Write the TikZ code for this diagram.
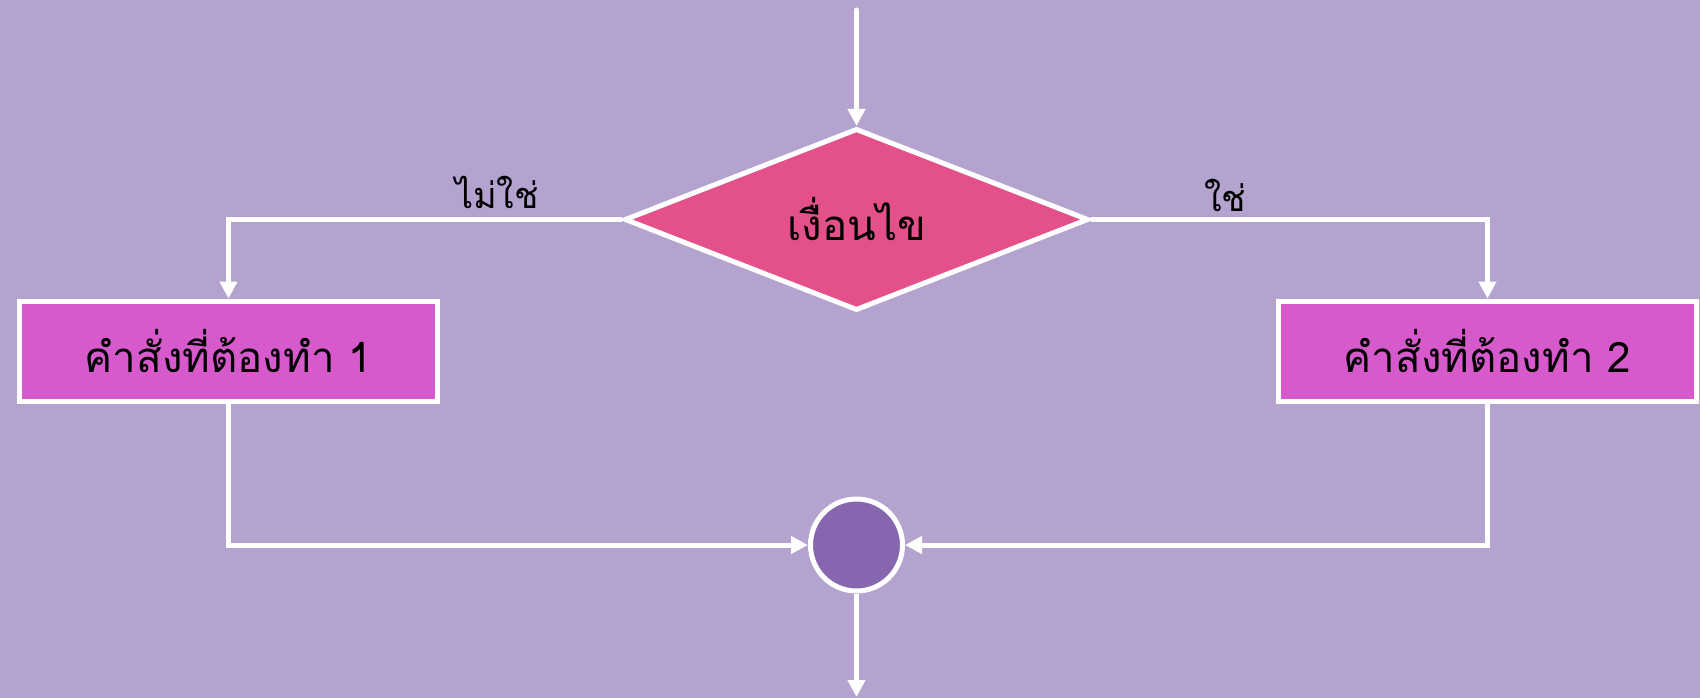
\documentclass[tikz,border=0pt]{standalone}
\usepackage{fontspec}
\newfontfamily\thaifont[Script=Thai]{Loma}
\usetikzlibrary{arrows.meta,shapes.geometric}
\definecolor{bg}{HTML}{B4A2CF}
\definecolor{diafill}{HTML}{E3508A}
\definecolor{boxfill}{HTML}{D65ACB}
\definecolor{circfill}{HTML}{8766B0}
\tikzset{
  conn/.style={draw=white, line width=5pt, -{Triangle[width=17pt,length=17pt]}},
  procbox/.style={rectangle, draw=white, line width=5pt, fill=boxfill, minimum width=418pt, minimum height=100pt, inner sep=0pt, font=\thaifont\fontsize{42}{48}\selectfont},
  decision/.style={diamond, draw=white, line width=5pt, fill=diafill, minimum width=464pt, minimum height=176pt, inner sep=0pt, font=\thaifont\fontsize{42}{48}\selectfont},
  joint/.style={circle, draw=white, line width=5pt, fill=circfill, minimum size=92pt, inner sep=0pt},
  lbl/.style={font=\thaifont\fontsize{36}{42}\selectfont, text=black, inner sep=0pt}
}
\begin{document}
\begin{tikzpicture}[x=1pt,y=-1pt]
\fill[bg] (0,0) rectangle (1700,698);
\useasboundingbox (0,0) rectangle (1700,698);
\coordinate (start) at (856.5,10);
\coordinate (finish) at (856.5,697);
\node[decision] (d) at (856.5,219.5) {เงื่อนไข};
\node[procbox] (b1) at (228.5,351) {คำสั่งที่ต้องทำ 1};
\node[procbox] (b2) at (1487.5,351) {คำสั่งที่ต้องทำ 2};
\node[joint] (c) at (856.5,545) {};
\node[lbl] (no) at (497,192) {ไม่ใช่};
\node[lbl] (yes) at (1225,195) {ใช่};
\draw[conn, line cap=round] (start) -- (d.north);
\draw[conn] (d.west) -| (b1.north);
\draw[conn] (d.east) -| (b2.north);
\draw[conn] (b1.south) |- (c.west);
\draw[conn] (b2.south) |- (c.east);
\draw[conn] (c.south) -- (finish);
\end{tikzpicture}
\end{document}
